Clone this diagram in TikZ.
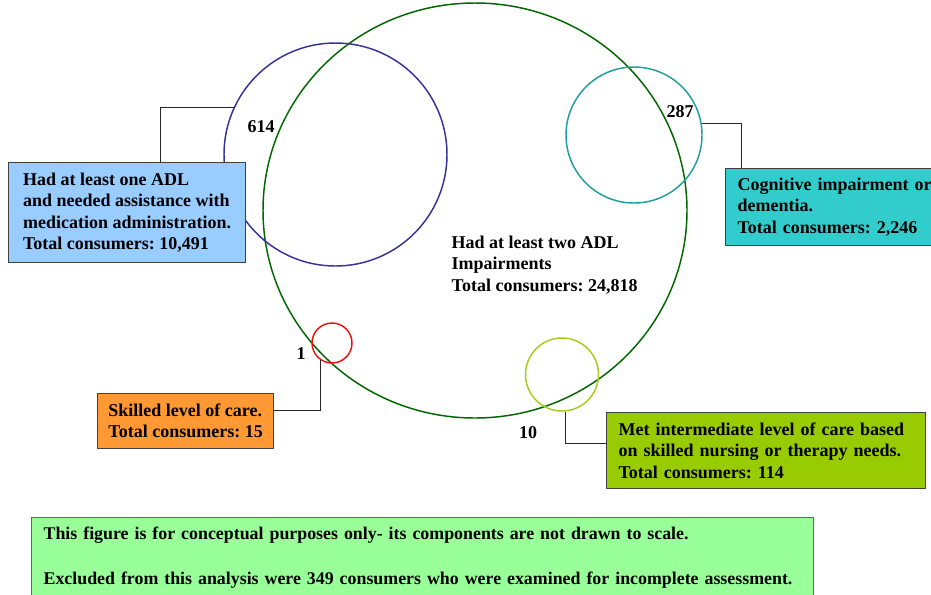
\documentclass[tikz,border=0pt]{standalone}
\usepackage{fontspec}
\setmainfont{Liberation Serif}
\frenchspacing
\definecolor{AdlGreen}{HTML}{006600}
\definecolor{MedNavy}{HTML}{333399}
\definecolor{CogTeal}{HTML}{1F9E9E}
\definecolor{SklRed}{HTML}{EE1111}
\definecolor{IntLime}{HTML}{A5CC19}
\definecolor{MedFill}{HTML}{99CCFF}
\definecolor{CogFill}{HTML}{33CCCC}
\definecolor{SklFill}{HTML}{FF9933}
\definecolor{IntFill}{HTML}{99CC00}
\definecolor{NoteFill}{HTML}{99FF99}
\usetikzlibrary{positioning,shapes.geometric}

\begin{document}
\begin{tikzpicture}[x=0.75pt, y=-0.75pt, every node/.style={font=\bfseries\fontsize{13.5}{16}\selectfont}]
        \useasboundingbox (0,0) rectangle (931,594);
        \tikzset{
            vset/.style={circle, draw=#1, line width=1.1pt, inner sep=0pt},
            infobox/.style={draw=black!75, line width=0.9pt, inner xsep=9pt, anchor=north west, align=left},
            conn/.style={draw=black!85, line width=0.7pt}
        }
        % Les ensembles (cercles)
        \node[ellipse, draw=AdlGreen, line width=1.1pt, minimum width=318pt, minimum height=311.25pt, inner sep=0pt] (adlset) at (475,210.5) {};
        \node[vset=MedNavy, minimum size=167.25pt] (medset) at (335.5,154.5) {};
        \node[vset=CogTeal, minimum size=102pt] (cogset) at (634,135) {};
        \node[vset=SklRed, minimum size=30pt] (sklset) at (332,343) {};
        \node[vset=IntLime, minimum size=54.75pt] (intset) at (562,374.5) {};
        \node[align=left, anchor=west] (adltext) at (447,265) {Had at least two ADL\\Impairments\\Total consumers: 24,818};

        % Chevauchements
        \node (c614) at (261,127) {614};
        \node (c287) at (680,112) {287};
        \node (c1) at (301,354) {1};
        \node (c10) at (528,433) {10};

        % Boites de description
        \node[infobox, fill=MedFill, minimum width=177.75pt, minimum height=75pt] (medbox) at (8,162) {Had at least one ADL\\and needed assistance with\\medication administration.\\Total consumers: 10,491};
        \node[infobox, fill=CogFill, text width=170pt, minimum height=57.75pt] (cogbox) at (725,168) {Cognitive impairment or\\dementia.\\Total consumers: 2,246};
        \node[infobox, fill=SklFill, inner xsep=4pt, minimum width=132pt, minimum height=41.25pt] (sklbox) at (97,393) {Skilled level of care.\\Total consumers: 15};
        \node[infobox, fill=IntFill, text width=221.25pt, minimum height=57pt] (intbox) at (606,412) {Met intermediate level of care based\\on skilled nursing or therapy needs.\\Total consumers: 114};

        % Liens
        \draw[conn] (medset.155) -| ([xshift=25pt]medbox.north);
        \draw[conn] (cogset.10) -| ([xshift=12pt]cogbox.north west);
        \draw[conn] ([yshift=8pt]sklbox.east) -| (sklset.235);
        \draw[conn] (intset.276) |- ([yshift=5pt]intbox.west);

        % Note en bas
        \node[infobox, fill=NoteFill, draw=black!60, inner ysep=7pt, text width=568.5pt, font=\bfseries\fontsize{13.4}{15}\selectfont] (notebox) at (31,517) {This figure is for conceptual purposes only- its components are not drawn to scale.\\[18.75pt]Excluded from this analysis were 349 consumers who were examined for incomplete assessment.};
    \end{tikzpicture}
\end{document}
